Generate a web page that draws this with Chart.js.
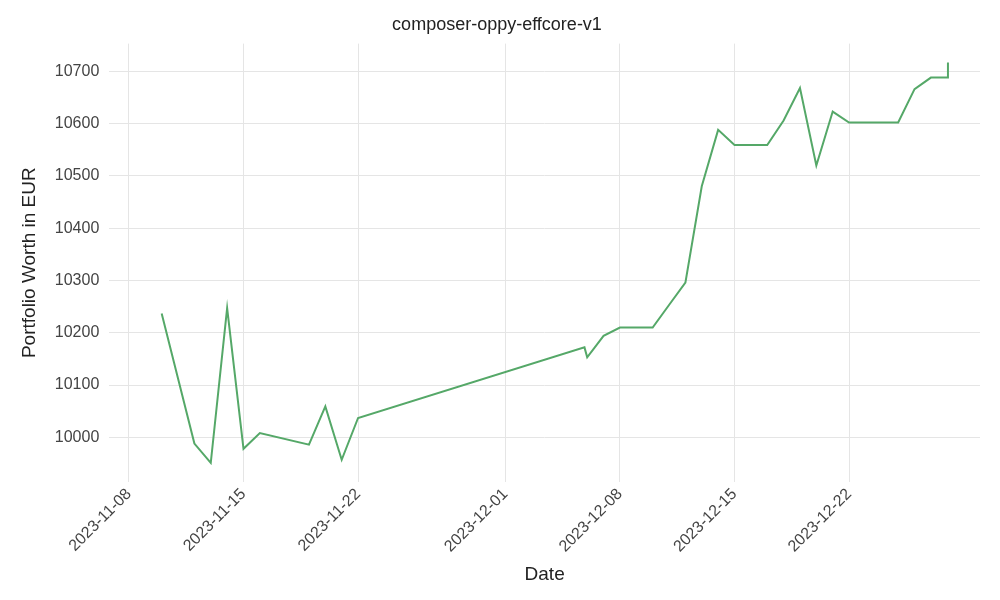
<!DOCTYPE html>
<html><head><meta charset="utf-8">
<script src="https://cdn.jsdelivr.net/npm/chart.js@4"></script>
<style>body{margin:0;background:#fff}#w{width:1000px;height:600px}</style>
</head><body><div id="w"><canvas id="c"></canvas></div>
<script>
const dates = ["2023-11-10","2023-11-12","2023-11-13","2023-11-14","2023-11-15","2023-11-16","2023-11-19","2023-11-20","2023-11-21","2023-11-22","2023-12-05T20:00","2023-12-06","2023-12-07","2023-12-08","2023-12-10","2023-12-11","2023-12-12","2023-12-13","2023-12-14","2023-12-15","2023-12-17","2023-12-18","2023-12-19","2023-12-20","2023-12-21","2023-12-22","2023-12-25","2023-12-26","2023-12-27","2023-12-28","2023-12-28T01:00"];
const values = [10237,9988,9951,10247,9978,10008,9986,10059,9957,10037,10172,10153,10194,10210,10210,10253,10296,10480,10588,10559,10559,10606,10668,10520,10623,10602,10602,10666,10688,10688,10717];
const tickDates = ["2023-11-08","2023-11-15","2023-11-22","2023-12-01","2023-12-08","2023-12-15","2023-12-22"];
const yTicks = [10000,10100,10200,10300,10400,10500,10600,10700];
const DAY = 86400000;
const t = s => Date.parse(s + (s.length === 10 ? "T00:00Z" : "Z"));
const fmt = v => new Date(v).toISOString().slice(0,10);
const FF = "Liberation Sans";
const font = {family:FF, size:16};
new Chart(document.getElementById('c'), {
  type:'line',
  data:{datasets:[{data:dates.map((d,i)=>({x:t(d),y:values[i]})),borderColor:'#55a868',borderWidth:2,pointRadius:0,tension:0}]},
  options:{responsive:true,maintainAspectRatio:false,animation:false,
    layout:{padding:{left:14,right:20,top:10,bottom:10}},
    plugins:{legend:{display:false},title:{display:true,text:'composer-oppy-effcore-v1',color:'#222',font:{family:FF,size:18,weight:'normal'},padding:{top:4,bottom:8}}},
    scales:{
      x:{type:'linear',min:t("2023-11-08")-1.2*DAY,max:t("2023-12-30"),
        afterBuildTicks:a=>{a.ticks=tickDates.map(d=>({value:t(d)}));},
        ticks:{callback:v=>fmt(v),maxRotation:45,minRotation:45,color:'#444',font},
        grid:{color:'#e5e5e5',drawTicks:false},border:{display:false},
        title:{display:true,text:'Date',color:'#222',font:{family:FF,size:19}}},
      y:{min:9915,max:10753,
        afterBuildTicks:a=>{a.ticks=yTicks.map(v=>({value:v}));},
        ticks:{callback:v=>String(v),color:'#444',font,padding:10},
        grid:{color:'#e5e5e5',drawTicks:false},border:{display:false},
        title:{display:true,text:'Portfolio Worth in EUR',color:'#222',font:{family:FF,size:19}}}
    }}
});
</script></body></html>
